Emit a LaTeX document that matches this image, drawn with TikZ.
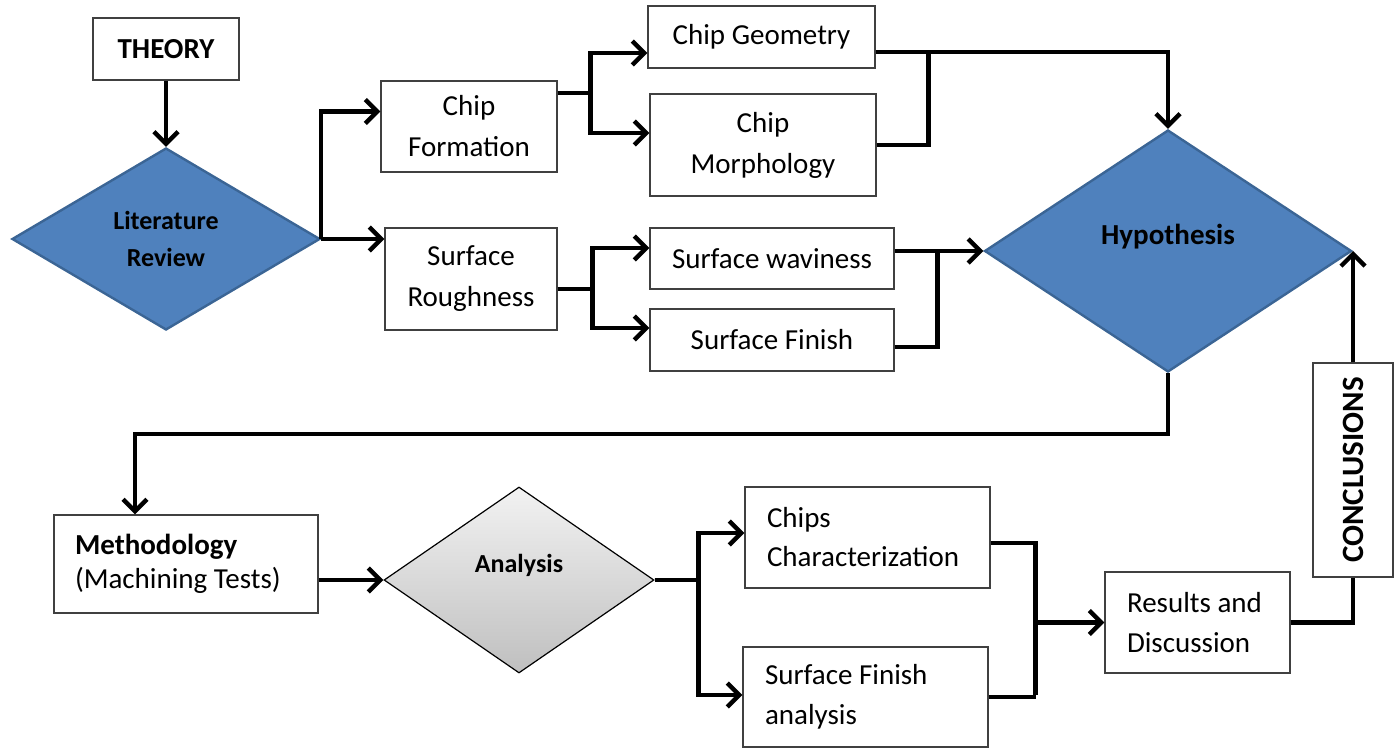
\documentclass[tikz,border=0pt]{standalone}
\usepackage{fontspec}
\setmainfont{Carlito}
\usepackage{tikz}
\usetikzlibrary{shapes, arrows, arrows.meta}
\definecolor{diafill}{HTML}{4F81BD}
\definecolor{diaborder}{HTML}{3B6595}
\tikzset{
	box/.style={rectangle, draw=black!75, line width=0.6pt, fill=white, align=center, inner sep=2pt, font=\fontsize{14.5}{20.5}\selectfont},
	leftbox/.style={box, align=flush left, inner xsep=11pt},
	bluedia/.style={diamond, draw=diaborder, fill=diafill, line width=1.2pt, inner sep=0pt, align=center},
	flow/.style={line width=2.2pt, -{Straight Barb[length=6pt,width=12pt]}},
	link/.style={line width=2.2pt},
}
\begin{document}
\begin{tikzpicture}[x=0.5pt, y=-0.5pt]
		\useasboundingbox (0,0) rectangle (1400,748);
		% upper row
		\node at (166,49) [box, minimum width=73pt, minimum height=31pt] (theory) {\bfseries THEORY};
		\node at (166,239) [bluedia, minimum width=154pt, minimum height=91pt, font=\bfseries\fontsize{13}{18.5}\selectfont] (lit) {Literature\\Review};
		\node at (469,126.5) [box, minimum width=88pt, minimum height=45.5pt] (chipform) {Chip\\Formation};
		\node at (471,279) [box, minimum width=86pt, minimum height=51pt] (roughness) {Surface\\Roughness};
		\node at (761.5,37) [box, minimum width=113.5pt, minimum height=31pt] (geometry) {Chip Geometry};
		\node at (763,145) [box, minimum width=113pt, minimum height=51pt] (morph) {Chip\\Morphology};
		\node at (772,258.5) [box, minimum width=122pt, minimum height=30.5pt] (waviness) {Surface waviness};
		\node at (772,340) [box, minimum width=122pt, minimum height=31pt] (finish) {Surface Finish};
		\node at (1168,251) [bluedia, minimum width=183.5pt, minimum height=121pt, text depth=17pt, font=\bfseries\fontsize{14.5}{18}\selectfont] (hyp) {Hypothesis};
		% lower row
		\node at (186,564) [leftbox, text width=111pt, minimum height=49pt, inner xsep=10.5pt, font=\fontsize{14.5}{17}\selectfont] (method) {\textbf{Methodology}\\(Machining Tests)};
		\node at (519,580) [diamond, draw=black, line width=0.6pt, top color=black!5, bottom color=black!25, inner sep=0pt, minimum width=135pt, minimum height=93pt, text depth=17pt, font=\bfseries\fontsize{13}{18}\selectfont] (analysis) {Analysis};
		\node at (867.5,537.5) [leftbox, text width=100.5pt, minimum height=50.5pt, font=\fontsize{14.5}{19.5}\selectfont] (chars) {Chips\\Characterization};
		\node at (865.5,697) [leftbox, text width=100.5pt, minimum height=50pt, font=\fontsize{14.5}{20}\selectfont] (sfana) {Surface Finish\\analysis};
		\node at (1197.5,622.5) [leftbox, text width=70.5pt, minimum height=50.5pt, font=\fontsize{14.5}{20}\selectfont] (results) {Results and\\Discussion};
		% connectors
		\draw[flow] (theory.south) -- (lit.north);
		\draw[flow] (lit.east) |- ([yshift=7.5pt]chipform.west);
		\draw[flow] (lit.east) -- (lit.east -| roughness.west);
		\draw[flow] ([yshift=16.75pt]chipform.east) -- ++(16.5pt,0) |- ([yshift=-8pt]geometry.west);
		\draw[flow] ([yshift=16.75pt]chipform.east) -- ++(16.5pt,0) |- ([yshift=6pt]morph.west);
		\draw[flow] ([yshift=-7.5pt]geometry.east) -| (hyp.north);
		\draw[link] (morph.east) -- ++(26pt,0) -- ++(0,46.5pt);
		\draw[flow] ([yshift=-5pt]roughness.east) -- ++(17.5pt,0) |- ([yshift=5.25pt]waviness.west);
		\draw[flow] ([yshift=-5pt]roughness.east) -- ++(17.5pt,0) |- ([yshift=6pt]finish.west);
		\draw[flow] (waviness.east |- hyp.west) -- (hyp.west);
		\draw[link] ([yshift=-3.5pt]finish.east) -- ++(21.5pt,0) -- ++(0,48pt);
		\draw[flow] (hyp.south) -- ++(0,-30.5pt) -| ([xshift=-25.5pt]method.north);
		\draw[flow] (method.east |- analysis.west) -- (analysis.west);
		\draw[flow] (analysis.east) -- ++(22pt,0) |- ([yshift=2.25pt]chars.west);
		\draw[flow] (analysis.east) -- ++(22pt,0) |- ([yshift=1pt]sfana.west);
		\draw[link] ([yshift=-2.75pt]chars.east) -- ++(22.5pt,0) coordinate (rj) -- ++(0,-76pt);
		\draw[link] (sfana.east) -- (sfana.east -| rj);
		\draw[flow] (rj |- results.west) -- (results.west);
		\node at (1353,470) [box, rotate=90, minimum width=107pt, minimum height=40pt, font=\bfseries\fontsize{15.5}{18}\selectfont] (concl) {CONCLUSIONS};
		\draw[link] (results.east) -| (concl.west);
		\draw[flow] (concl.east) -- (concl.east |- hyp.east);
	\end{tikzpicture}
\end{document}
